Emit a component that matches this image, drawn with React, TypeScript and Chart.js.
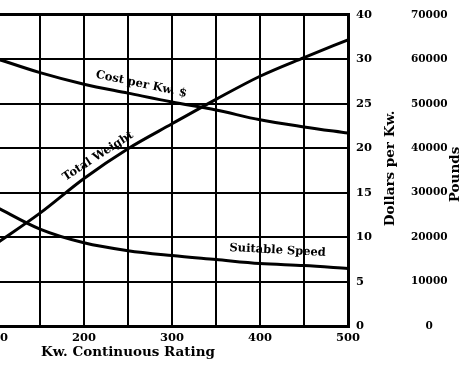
import React, { useEffect, useRef } from "react";
import { Chart, registerables } from "chart.js";

Chart.register(...registerables);

// ---- data ----
const ratingKw = [100, 150, 200, 250, 300, 350, 400, 450, 500];
const costPerKw = [30.1, 28.5, 27.2, 26.2, 25.2, 24.3, 23.2, 22.4, 21.7];
const totalWeightLb = [18500, 25400, 33200, 39900, 45500, 51000, 56200, 60400, 64400];
const suitableSpeed = [13.4, 10.9, 9.36, 8.47, 7.92, 7.47, 7.02, 6.8, 6.47];

// ---- tick labels ----
const xTickLabels = ["", "100", "200", "300", "400", "500"];
const dollarTickLabels = ["0", "5", "10", "15", "20", "25", "30", "40"];
const poundTickLabels = ["0", "10000", "20000", "30000", "40000", "50000", "60000", "70000"];

const curveLabels = [
  { text: "Cost per Kw. $", x: 265, y: 27.2, angle: 12 },
  { text: "Total Weight", x: 216, y: 19.1, angle: -33 },
  { text: "Suitable Speed", x: 420, y: 8.5, angle: 3 },
];

const FONT = "'DejaVu Serif', 'Liberation Serif', serif";

const labelPlugin = {
  id: "curveLabels",
  afterDatasetsDraw(chart: any) {
    const { ctx, scales, chartArea } = chart;
    ctx.save();
    ctx.fillStyle = "#000";
    ctx.textAlign = "center";
    ctx.textBaseline = "middle";
    ctx.font = `bold 11.5px ${FONT}`;
    for (const l of curveLabels) {
      const px = scales.x.getPixelForValue(l.x);
      const py = scales.y.getPixelForValue(l.y);
      ctx.save();
      ctx.translate(px, py);
      ctx.rotate((l.angle * Math.PI) / 180);
      ctx.fillText(l.text, 0, 0);
      ctx.restore();
    }
    // axis titles reading bottom-to-top
    ctx.font = `bold 13.5px ${FONT}`;
    const yS = scales.y;
    const y2S = scales.y2;
    ctx.save();
    ctx.translate(yS.right - 18, (chartArea.top + chartArea.bottom) / 2 - 2);
    ctx.rotate(-Math.PI / 2);
    ctx.fillText("Dollars per Kw.", 0, 0);
    ctx.restore();
    ctx.save();
    ctx.translate(y2S.right - 9, (chartArea.top + chartArea.bottom) / 2 + 4);
    ctx.rotate(-Math.PI / 2);
    ctx.fillText("Pounds", 0, 0);
    ctx.restore();
    ctx.restore();
  },
};

export default function App() {
  const ref = useRef<HTMLCanvasElement | null>(null);

  useEffect(() => {
    if (!ref.current) return;
    const lineStyle = {
      borderColor: "#000",
      borderWidth: 3,
      pointRadius: 0,
      fill: false,
      cubicInterpolationMode: "monotone" as const,
    };
    const edgeWidth = (ctx: any) => {
      const s = ctx.scale;
      const v = ctx.tick ? ctx.tick.value : 0;
      return v === s.max || v === s.min ? 3 : 2;
    };
    const tickFont = { family: FONT, size: 11.5, weight: "bold" };
    const chart = new Chart(ref.current, {
      type: "line",
      data: {
        datasets: [
          {
            label: "Cost per Kw.",
            data: ratingKw.map((x, i) => ({ x, y: costPerKw[i] })),
            yAxisID: "y",
            ...lineStyle,
          },
          {
            label: "Total Weight",
            data: ratingKw.map((x, i) => ({ x, y: totalWeightLb[i] })),
            yAxisID: "y2",
            ...lineStyle,
          },
          {
            label: "Suitable Speed",
            data: ratingKw.map((x, i) => ({ x, y: suitableSpeed[i] })),
            yAxisID: "y",
            ...lineStyle,
          },
        ],
      },
      options: {
        animation: false,
        responsive: false,
        events: [],
        layout: { padding: { left: 8, top: 12, right: 0, bottom: 0 } },
        plugins: { legend: { display: false }, tooltip: { enabled: false } },
        scales: {
          x: {
            type: "linear",
            min: 0,
            max: 500,
            position: "bottom",
            afterFit: (s: any) => {
              s.height = 39;
            },
            grid: { color: "#000", lineWidth: edgeWidth, drawTicks: false },
            border: { display: true, color: "#000", width: 3 },
            ticks: {
              stepSize: 50,
              autoSkip: false,
              maxRotation: 0,
              padding: 5,
              color: "#000",
              font: tickFont,
              callback: (v: any) => (v % 100 === 0 ? xTickLabels[v / 100] : ""),
            },
            title: {
              display: true,
              text: "Kw. Continuous Rating",
              color: "#000",
              font: { family: FONT, size: 13.5, weight: "bold" },
              padding: { top: 0, bottom: 4 },
            },
          },
          y: {
            type: "linear",
            position: "right",
            weight: 0,
            min: 0,
            max: 35,
            afterFit: (s: any) => {
              s.width = 60;
            },
            grid: { color: "#000", lineWidth: edgeWidth, drawTicks: false },
            border: { display: true, color: "#000", width: 3 },
            ticks: {
              stepSize: 5,
              padding: 8,
              color: "#000",
              crossAlign: "near",
              font: tickFont,
              callback: (v: any) => dollarTickLabels[Math.round(v / 5)],
            },
          },
          y2: {
            type: "linear",
            position: "right",
            weight: 1,
            min: 0,
            max: 70000,
            afterFit: (s: any) => {
              s.width = 56;
            },
            grid: { display: false, drawTicks: false },
            border: { display: false },
            ticks: {
              stepSize: 10000,
              padding: 3,
              color: "#000",
              crossAlign: "center",
              font: { family: FONT, size: 10.5, weight: "bold" },
              callback: (v: any) => poundTickLabels[Math.round(v / 10000)],
            },
          },
        },
      },
      plugins: [labelPlugin],
    } as any);
    return () => chart.destroy();
  }, []);

  return (
    <div style={{ position: "absolute", left: -100, top: 0, width: 564, height: 365 }}>
      <canvas ref={ref} width={564} height={365} style={{ display: "block" }} />
    </div>
  );
}
